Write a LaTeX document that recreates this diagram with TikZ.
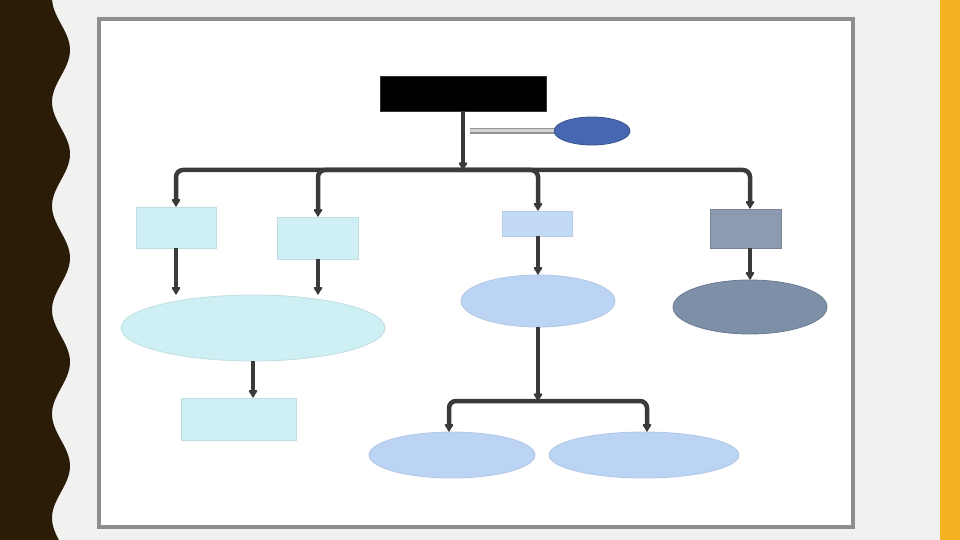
\documentclass[tikz,border=0pt]{standalone}
\usetikzlibrary{shapes.geometric,arrows.meta}
\definecolor{bgc}{HTML}{F1F1EF}
\definecolor{bandc}{HTML}{2B1C08}
\definecolor{orangec}{HTML}{F5B223}
\definecolor{framec}{HTML}{8E8E8E}
\definecolor{linec}{HTML}{3A3A3A}
\definecolor{cyanc}{HTML}{CEEFF3}
\definecolor{lbluec}{HTML}{C3DAF5}
\definecolor{ebluec}{HTML}{BBD4F4}
\definecolor{grayboxc}{HTML}{8D9BB1}
\definecolor{grayellc}{HTML}{7E8FA8}
\definecolor{dbluec}{HTML}{4767B0}
\tikzset{
  conn/.style={draw=linec, line width=4.5pt, rounded corners=7pt},
  tip/.style={-{Latex[round,length=9pt,width=11pt]}},
  boxc/.style={rectangle, draw=cyanc!85!gray, line width=0.8pt, fill=cyanc, inner sep=0pt},
  ellc/.style={ellipse, draw=cyanc!85!gray, line width=0.8pt, fill=cyanc, inner sep=0pt},
  ellb/.style={ellipse, draw=ebluec!85!gray, line width=0.8pt, fill=ebluec, inner sep=0pt},
}
\begin{document}
\begin{tikzpicture}[x=1pt,y=-1pt]
\useasboundingbox (0,0) rectangle (960,540);
\fill[bgc] (0,0) rectangle (960,540);
% left wavy band
\fill[bandc] (0,0) -- plot[smooth, variable=\t, domain=0:540, samples=90] ({61+9*sin(3.4615*(\t-24))},\t) -- (0,540) -- cycle;
% right orange stripe
\fill[orangec] (940,0) rectangle (960,540);
% panel
\draw[framec, line width=4pt, fill=white] (99,19) rectangle (853,527);

% nodes
\node[rectangle, fill=black, draw=black!80, minimum width=166pt, minimum height=35pt, inner sep=0pt] (top) at (463,93.5) {};
\node[ellipse, fill=dbluec, draw=dbluec!80!black, line width=0.8pt, minimum width=76pt, minimum height=28pt, inner sep=0pt] (oval) at (592,131) {};

\node[boxc, minimum width=80pt, minimum height=41pt] (b1) at (176,227.5) {};
\node[boxc, minimum width=81pt, minimum height=42pt] (b2) at (318,238) {};
\node[rectangle, fill=lbluec, draw=lbluec!85!gray, line width=0.8pt, minimum width=70pt, minimum height=25pt, inner sep=0pt] (b3) at (537,223.5) {};
\node[rectangle, fill=grayboxc, draw=grayboxc!85!black, line width=0.8pt, minimum width=71pt, minimum height=39pt, inner sep=0pt] (b4) at (746,228.5) {};

\node[ellc, minimum width=264pt, minimum height=66pt] (e1) at (253,328) {};
\node[boxc, minimum width=115pt, minimum height=42pt] (b5) at (238.5,419) {};

\node[ellb, minimum width=154pt, minimum height=52pt] (e2) at (538,301) {};
\node[ellb, minimum width=166pt, minimum height=46pt] (e3) at (452,455) {};
\node[ellb, minimum width=190pt, minimum height=46pt] (e4) at (644,455) {};

\node[ellipse, fill=grayellc, draw=grayellc!85!black, line width=0.8pt, minimum width=154pt, minimum height=54pt, inner sep=0pt] (e5) at (750,307) {};

% connectors
\coordinate (j) at (463,170);
\coordinate (k) at (470,131);
\draw[gray!85, double=gray!35, double distance=3pt, line width=1.3pt] (k) -- (oval.west);
\draw[conn,tip] (top.south) -- (j);
\draw[conn,tip] (j) -| (b1.north);
\draw[conn,tip] (j) -| (b2.north);
\draw[conn,tip] (j) -| ([xshift=1pt]b3.north);
\draw[conn,tip] (j) -| ([xshift=4pt]b4.north);

\draw[conn,tip] (b1.south) -- (b1.south |- e1.north);
\draw[conn,tip] (b2.south) -- (b2.south |- e1.north);
\draw[conn,tip] (e1.south) -- (e1.south |- b5.north);

\draw[conn,tip] ([xshift=1pt]b3.south) -- (e2.north);
\draw[conn,tip] ([xshift=4pt]b4.south) -- (e5.north);

\coordinate (j2) at (538,401);
\draw[conn,tip] (e2.south) -- (j2);
\draw[conn,tip] (j2) -| ([xshift=-3pt]e3.north);
\draw[conn,tip] (j2) -| ([xshift=3pt]e4.north);
\end{tikzpicture}
\end{document}
